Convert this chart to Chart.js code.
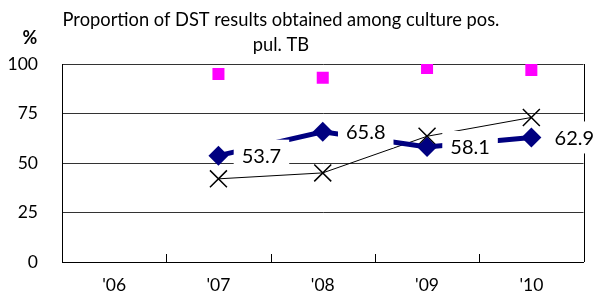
<!DOCTYPE html>
<html>
<head>
<meta charset="utf-8">
<script src="https://cdn.jsdelivr.net/npm/chart.js@4.4.1/dist/chart.umd.min.js"></script>
<style>
  html, body { margin: 0; padding: 0; background: #fff; }
</style>
</head>
<body>
<canvas id="dstChart" width="597" height="293"></canvas>
<script>
  // values
  const years = ["'06", "'07", "'08", "'09", "'10"];
  const dstObtained = [null, 53.7, 65.8, 58.1, 62.9];
  const squareSeries = [null, 95, 93, 98, 97];
  const crossSeries = [null, 42, 45, 63.5, 73];
  const yTicks = [0, 25, 50, 75, 100];
  const titleLines = ['Proportion of DST results obtained among culture pos.', 'pul. TB'];
  const unitLabel = '%';

  const FONT = 'Lato, "Liberation Sans", sans-serif';

  // title + unit label, drawn by hand so they can sit off-centre like the original
  const headings = {
    id: 'headings',
    afterDraw(chart) {
      const ctx = chart.ctx;
      ctx.save();
      ctx.fillStyle = '#000';
      ctx.textAlign = 'center';
      ctx.textBaseline = 'middle';
      ctx.font = '18.3px ' + FONT;
      ctx.fillText(titleLines[0], 281, 20);
      ctx.fillText(titleLines[1], 281, 45);
      ctx.font = 'bold 18px ' + FONT;
      ctx.fillText(unitLabel, 30, 38);
      ctx.restore();
    }
  };

  // right edge of the plot box + small inward ticks between the year bands
  const frame = {
    id: 'frame',
    afterDatasetsDraw(chart) {
      const a = chart.chartArea;
      const ctx = chart.ctx;
      ctx.save();
      ctx.strokeStyle = '#000';
      ctx.lineWidth = 1;
      ctx.beginPath();
      ctx.moveTo(Math.round(a.right) + 0.5, a.top);
      ctx.lineTo(Math.round(a.right) + 0.5, a.bottom);
      const band = (a.right - a.left) / years.length;
      for (let i = 1; i < years.length; i++) {
        const tx = Math.round(a.left + i * band) + 0.5;
        ctx.moveTo(tx, a.bottom);
        ctx.lineTo(tx, a.bottom - 8);
      }
      ctx.stroke();
      ctx.restore();
    }
  };

  // value labels on white boxes for the first series
  const boxLabels = {
    id: 'boxLabels',
    afterDraw(chart) {
      const ctx = chart.ctx;
      const meta = chart.getDatasetMeta(0);
      ctx.save();
      ctx.font = '20px ' + FONT;
      ctx.textAlign = 'center';
      ctx.textBaseline = 'middle';
      meta.data.forEach((pt, i) => {
        const v = dstObtained[i];
        if (v === null) return;
        const txt = v.toFixed(1);
        const w = ctx.measureText(txt).width + 16;
        const h = 32;
        const cx = pt.x + 43;
        const cy = pt.y;
        ctx.fillStyle = '#fff';
        ctx.fillRect(cx - w / 2, cy - h / 2, w, h);
        ctx.fillStyle = '#000';
        ctx.fillText(txt, cx, cy + 1);
      });
      ctx.restore();
    }
  };

  new Chart(document.getElementById('dstChart'), {
    type: 'line',
    data: {
      labels: years,
      datasets: [
        {
          data: dstObtained,
          borderColor: '#000080',
          backgroundColor: '#000080',
          borderWidth: 5,
          pointStyle: 'rectRot',
          pointRadius: 10,
          pointBorderWidth: 0,
          tension: 0
        },
        {
          data: squareSeries,
          showLine: false,
          borderColor: '#ff00ff',
          backgroundColor: '#ff00ff',
          pointStyle: 'rect',
          pointRadius: 8.5,
          pointBorderWidth: 0
        },
        {
          data: crossSeries,
          borderColor: '#000',
          backgroundColor: '#000',
          borderWidth: 1,
          pointStyle: 'crossRot',
          pointRadius: 12,
          pointBorderWidth: 1.5,
          tension: 0
        }
      ]
    },
    options: {
      responsive: false,
      animation: false,
      layout: { padding: { top: 64, right: 13, left: 0, bottom: 0 } },
      plugins: {
        legend: { display: false },
        title: { display: false },
        tooltip: { enabled: false }
      },
      scales: {
        x: {
          offset: true,
          grid: { offset: true, drawOnChartArea: false, drawTicks: false },
          border: { color: '#000' },
          ticks: { color: '#000', font: { family: FONT, size: 17.5 }, padding: 13, maxRotation: 0 },
          afterFit(scale) { scale.height = 31; }
        },
        y: {
          min: yTicks[0],
          max: yTicks[yTicks.length - 1],
          afterBuildTicks(scale) { scale.ticks = yTicks.map(v => ({ value: v })); },
          grid: { color: '#333', drawTicks: false },
          border: { color: '#000' },
          ticks: { color: '#000', font: { family: FONT, size: 17.5 }, padding: 24 },
          afterFit(scale) {
            scale.width = 62;
            scale.paddingTop = 0;
            scale.paddingBottom = 0;
          }
        }
      }
    },
    plugins: [frame, headings, boxLabels]
  });
</script>
</body>
</html>
